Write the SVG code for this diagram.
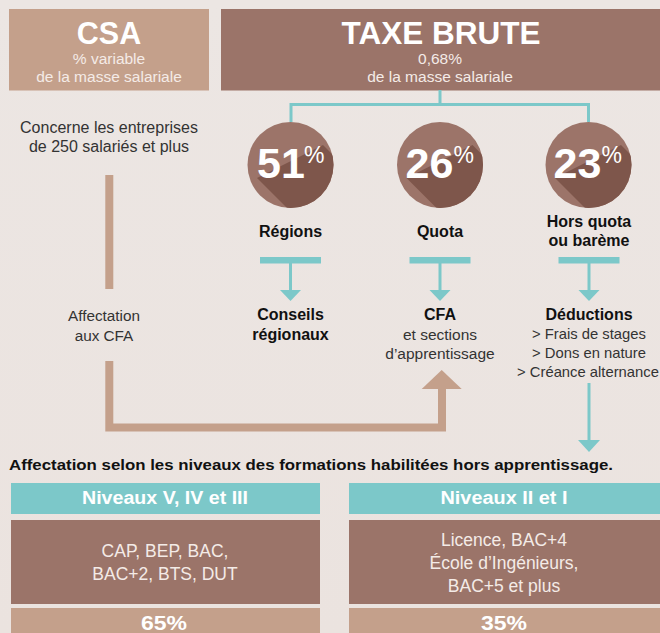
<svg xmlns="http://www.w3.org/2000/svg" width="660" height="633" viewBox="0 0 660 633">
<defs>
<clipPath id="cc"><circle cx="0" cy="0" r="43"/></clipPath>
<linearGradient id="bgg" x1="0" y1="0" x2="0" y2="1"><stop offset="0" stop-color="#ece6e3"/><stop offset="1" stop-color="#ebe3df"/></linearGradient>
</defs>
<style>
.t{font-family:"Liberation Sans",Arial,Helvetica,sans-serif;text-anchor:middle}
.b{font-weight:bold}
.w{fill:#fff}
.lt{fill:#f4ebe7}
.dk{fill:#111}
.gr{fill:#333}
.teal{stroke:#7cc8c9;fill:none;stroke-width:3}
.tealf{fill:#7cc8c9}
.tan{fill:#c4a08b}
.brown{fill:#9b7469}
.disc{fill:#9c7469}
.shadow{fill:#7e564b}
.csa{stroke:#c4a08b;fill:none;stroke-width:8}
</style>
<rect class="bg" width="660" height="633" fill="url(#bgg)"/>

<g id="csa">
<rect class="tan" x="9" y="9" width="200" height="81.5"/>
<text class="t b w" x="109" y="43.5" font-size="30.5">CSA</text>
<text class="t lt" x="109" y="64" font-size="15.5">% variable</text>
<text class="t lt" x="109" y="82" font-size="15.5">de la masse salariale</text>
</g>

<g id="taxe">
<rect class="brown" x="221" y="9" width="439" height="81.5"/>
<text class="t b w" x="441" y="43.5" font-size="30.5" textLength="199" lengthAdjust="spacingAndGlyphs">TAXE BRUTE</text>
<text class="t lt" x="440" y="64" font-size="15.5">0,68%</text>
<text class="t lt" x="440" y="82" font-size="15.5">de la masse salariale</text>
</g>

<g id="csa-note">
<text class="t gr" x="109" y="133" font-size="16">Concerne les entreprises</text>
<text class="t gr" x="109" y="152" font-size="16">de 250 salariés et plus</text>
</g>
<g id="affectation-cfa">
<text class="t gr" x="104" y="321" font-size="15.3">Affectation</text>
<text class="t gr" x="104" y="340.5" font-size="15.3">aux CFA</text>
</g>

<g id="connectors">
<path class="teal" d="M440,90 V104.5 M291,122 V104.5 H588.5 V122"/>
<rect class="tealf" x="260" y="257" width="61" height="6.5"/>
<path class="teal" d="M290.5,263 V291"/>
<polygon class="tealf" points="280,290 301,290 290.5,301"/>
<rect class="tealf" x="409.5" y="257" width="61" height="6.5"/>
<path class="teal" d="M440,263 V291"/>
<polygon class="tealf" points="429.5,290 450.5,290 440,301"/>
<rect class="tealf" x="558.5" y="257" width="61" height="6.5"/>
<path class="teal" d="M589,263 V291"/>
<polygon class="tealf" points="578.5,290 599.5,290 589,301"/>
<path class="teal" d="M589,383 V441"/>
<polygon class="tealf" points="578,440 600,440 589,452"/>
<path class="csa" d="M109.3,175 V289"/>
<path class="csa" d="M109.3,361 V427.5 H442 V388" stroke-linejoin="miter"/>
<polygon class="tan" points="421.7,389 461.7,389 441.7,370"/>
</g>

<g id="regions">
<g transform="translate(290.5,165)">
<circle class="disc" r="43"/>
<polygon class="shadow" clip-path="url(#cc)" points="-33.5,13 32.5,-20 112.5,60 46.5,93"/>
<text class="t b w" x="-33.5" y="13" font-size="43" style="text-anchor:start">51</text>
<text class="t w" x="13.5" y="-2" font-size="23" style="text-anchor:start">%</text>
</g>
<text class="t b dk" x="290.5" y="237" font-size="16">Régions</text>
<text class="t b dk" x="290.5" y="319.5" font-size="16">Conseils</text>
<text class="t b dk" x="290.5" y="339.5" font-size="16">régionaux</text>
</g>

<g id="quota">
<g transform="translate(440,165)">
<circle class="disc" r="43"/>
<polygon class="shadow" clip-path="url(#cc)" points="-33.5,13 32.5,-20 112.5,60 46.5,93"/>
<text class="t b w" x="-34.5" y="13" font-size="43" style="text-anchor:start">26</text>
<text class="t w" x="13.5" y="-2" font-size="23" style="text-anchor:start">%</text>
</g>
<text class="t b dk" x="440" y="237" font-size="16">Quota</text>
<text class="t b dk" x="440" y="319.5" font-size="16">CFA</text>
<text class="t gr" x="440" y="340" font-size="15.5">et sections</text>
<text class="t gr" x="440" y="359" font-size="15.5">d’apprentissage</text>
</g>

<g id="hors-quota">
<g transform="translate(588.5,165)">
<circle class="disc" r="43"/>
<polygon class="shadow" clip-path="url(#cc)" points="-33.5,13 32.5,-20 112.5,60 46.5,93"/>
<text class="t b w" x="-35" y="13" font-size="43" style="text-anchor:start">23</text>
<text class="t w" x="13" y="-2" font-size="23" style="text-anchor:start">%</text>
</g>
<text class="t b dk" x="589" y="227" font-size="16">Hors quota</text>
<text class="t b dk" x="589" y="246" font-size="16">ou barème</text>
<text class="t b dk" x="589" y="319.5" font-size="16">Déductions</text>
<text class="t gr" x="589" y="339" font-size="14.8">&gt; Frais de stages</text>
<text class="t gr" x="589" y="358" font-size="14.8">&gt; Dons en nature</text>
<text class="t gr" x="588" y="377" font-size="14.8">&gt; Créance alternance</text>
</g>

<g id="bottom-title">
<text class="t b dk" x="9" y="470" font-size="15.5" textLength="604" lengthAdjust="spacingAndGlyphs" style="text-anchor:start">Affectation selon les niveaux des formations habilitées hors apprentissage.</text>
</g>

<g id="niveaux-v-iv-iii">
<rect class="tealf" x="11" y="483" width="309" height="31"/>
<text class="t b w" x="165" y="504" font-size="18" textLength="166" lengthAdjust="spacingAndGlyphs">Niveaux V, IV et III</text>
<rect class="brown" x="11" y="520" width="309" height="84"/>
<text class="t lt" x="165" y="557" font-size="17.5">CAP, BEP, BAC,</text>
<text class="t lt" x="165" y="580" font-size="17.5">BAC+2, BTS, DUT</text>
<rect class="tan" x="11" y="608" width="309" height="25"/>
<text class="t b w" x="164" y="630" font-size="21" textLength="46" lengthAdjust="spacingAndGlyphs">65%</text>
</g>

<g id="niveaux-ii-i">
<rect class="tealf" x="349" y="483" width="311" height="31"/>
<text class="t b w" x="504" y="504" font-size="18" textLength="127" lengthAdjust="spacingAndGlyphs">Niveaux II et I</text>
<rect class="brown" x="349" y="520" width="311" height="84"/>
<text class="t lt" x="504" y="546" font-size="17.5">Licence, BAC+4</text>
<text class="t lt" x="504" y="569" font-size="17.5">École d’Ingénieurs,</text>
<text class="t lt" x="504" y="592" font-size="17.5">BAC+5 et plus</text>
<rect class="tan" x="349" y="608" width="311" height="25"/>
<text class="t b w" x="504" y="630" font-size="21" textLength="46" lengthAdjust="spacingAndGlyphs">35%</text>
</g>
</svg>
